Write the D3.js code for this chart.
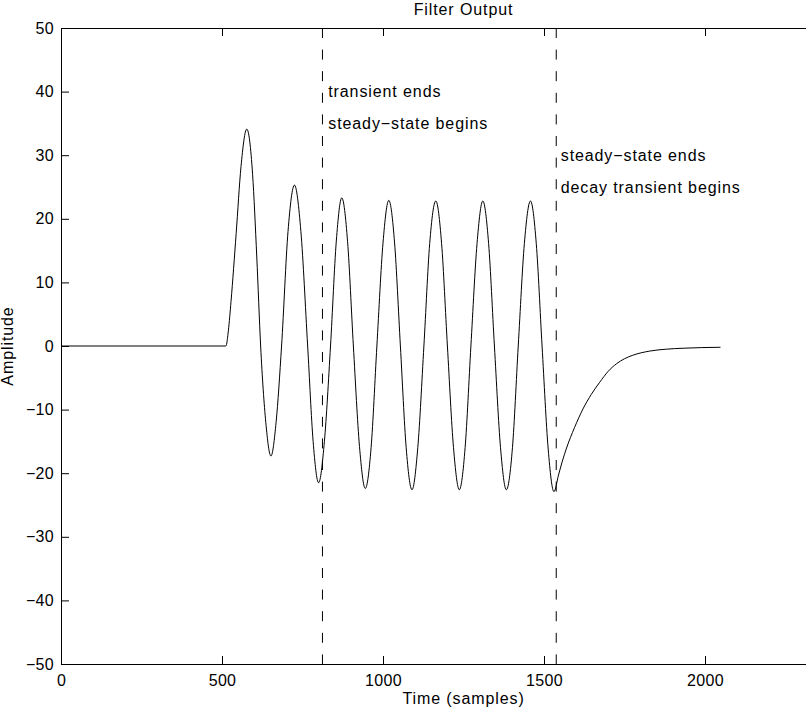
<!DOCTYPE html>
<html>
<head>
<meta charset="utf-8">
<script src="https://cdn.jsdelivr.net/npm/d3@7"></script>
<style>
  body { margin: 0; background: #fff; }
  text { font-family: "Liberation Sans", Arial, Helvetica, sans-serif; }
</style>
</head>
<body>
<div id="chart"></div>
<script>
// values
var timeSamples = [0, 512, 520, 528, 544, 559, 577, 595, 608, 620, 636, 652, 668, 685, 705, 725, 745, 766,
  783, 800, 818, 837, 855, 872, 890, 908, 927, 945, 963, 981, 1000, 1018, 1036, 1054, 1072, 1090,
  1108, 1127, 1145, 1164, 1182, 1200, 1219, 1237, 1255, 1273, 1292, 1310, 1328, 1346, 1365, 1383,
  1402, 1420, 1439, 1458, 1476, 1494, 1513, 1531, 1545, 1557, 1569, 1595, 1621, 1647, 1673, 1699,
  1725, 1750, 1776, 1828, 1880, 1932, 1990, 2048]
var amplitude = [0, 0, 2.5, 7, 17.7, 28.2, 34.1, 27, 14, 0, -12, -17.3, -12, 0, 18, 25.3, 18, 0,
  -15, -21.5, -15, 0, 16.5, 23.3, 16.4, 0, -15.8, -22.4, -16, 0, 16.2, 22.9, 16.2, 0, -16, -22.6,
  -16, 0, 16.1, 22.8, 16.1, 0, -16, -22.6, -16, 0, 16.1, 22.8, 16.1, 0, -16, -22.6,
  -16, 0, 16.1, 22.8, 16.1, 0, -16.2, -22.9, -20.3, -18.1, -16.2, -12.8, -9.9, -7.6, -5.7, -4.0,
  -2.8, -2.0, -1.45, -0.8, -0.5, -0.35, -0.25, -0.2]

var markerTimes = [812, 1538]

var noteLabels = ["transient ends", "steady\u2212state begins", "steady\u2212state ends", "decay transient begins"]
var noteTimes = [830, 830, 1552, 1552]
var noteValues = [40, 35, 30, 25]

var xTicks = [0, 500, 1000, 1500, 2000]
var yTicks = [-50, -40, -30, -20, -10, 0, 10, 20, 30, 40, 50]

;(function () {

  var margin = { top: 28, right: 0, bottom: 47, left: 61 }

  // the axes run to 2500, past the right edge of the window
  var width = 805,
      height = 636

  var svg = d3.select("#chart").append("svg")
      .attr("width", 806)
      .attr("height", 711)
      .append("g")
      .attr("transform", "translate(" + margin.left + "," + margin.top + ")")

  var xPositionScale = d3.scaleLinear()
      .domain([0, 2500])
      .range([0, width])

  var yPositionScale = d3.scaleLinear()
      .domain([-50, 50])
      .range([height, 0])

  var points = timeSamples.map(function (t, i) {
    return { t: t, v: amplitude[i] }
  })

  // the signal
  var line = d3.line()
      .x(function (d) { return xPositionScale(d.t) })
      .y(function (d) { return yPositionScale(d.v) })
      .curve(d3.curveMonotoneX)

  svg.append("path")
      .datum(points)
      .attr("d", line)
      .attr("fill", "none")
      .attr("stroke", "#000")
      .attr("stroke-width", 1)

  // dashed markers
  svg.selectAll(".marker")
      .data(markerTimes)
      .enter().append("line")
      .attr("class", "marker")
      .attr("x1", function (d) { return xPositionScale(d) })
      .attr("x2", function (d) { return xPositionScale(d) })
      .attr("y1", yPositionScale(50))
      .attr("y2", yPositionScale(-50))
      .attr("stroke", "#000")
      .attr("stroke-width", 1)
      .attr("stroke-dasharray", "10,11.6")

  // notes
  svg.selectAll(".note")
      .data(noteLabels)
      .enter().append("text")
      .attr("class", "note")
      .attr("x", function (d, i) { return xPositionScale(noteTimes[i]) })
      .attr("y", function (d, i) { return yPositionScale(noteValues[i]) })
      .attr("dy", "0.35em")
      .attr("font-size", 16)
      .attr("letter-spacing", "0.9px")
      .attr("fill", "#000")
      .text(function (d) { return d })

  // axes, ticks pointing in like matlab
  var xAxis = d3.axisBottom(xPositionScale)
      .tickValues(xTicks)
      .tickFormat(d3.format("d"))
      .tickSizeInner(-8)
      .tickSizeOuter(0)
      .tickPadding(11)

  svg.append("g")
      .attr("class", "axis x-axis")
      .attr("transform", "translate(0," + height + ")")
      .call(xAxis)

  svg.append("g")
      .attr("class", "axis")
      .call(d3.axisTop(xPositionScale).tickValues(xTicks).tickFormat("").tickSizeInner(-8).tickSizeOuter(0))

  var yAxis = d3.axisLeft(yPositionScale)
      .tickValues(yTicks)
      .tickSizeInner(-8)
      .tickSizeOuter(0)
      .tickPadding(7)

  svg.append("g")
      .attr("class", "axis y-axis")
      .call(yAxis)

  svg.selectAll(".axis")
      .attr("font-size", 16)
      .attr("font-family", "'Liberation Sans', Arial, Helvetica, sans-serif")
  svg.selectAll(".axis text").attr("fill", "#000").attr("letter-spacing", "0.3px")
  svg.selectAll(".axis path, .axis line").attr("stroke", "#000")

  // titles
  svg.append("text")
      .attr("x", width / 2)
      .attr("y", -13)
      .attr("text-anchor", "middle")
      .attr("font-size", 16)
      .attr("letter-spacing", "0.9px")
      .text("Filter Output")

  svg.append("text")
      .attr("x", width / 2)
      .attr("y", height + 40)
      .attr("text-anchor", "middle")
      .attr("font-size", 16)
      .attr("letter-spacing", "0.9px")
      .text("Time (samples)")

  svg.append("text")
      .attr("transform", "translate(" + (12.5 - margin.left) + "," + (height / 2) + ") rotate(-90)")
      .attr("text-anchor", "middle")
      .attr("font-size", 16)
      .attr("letter-spacing", "0.9px")
      .text("Amplitude")

})()
</script>
</body>
</html>
